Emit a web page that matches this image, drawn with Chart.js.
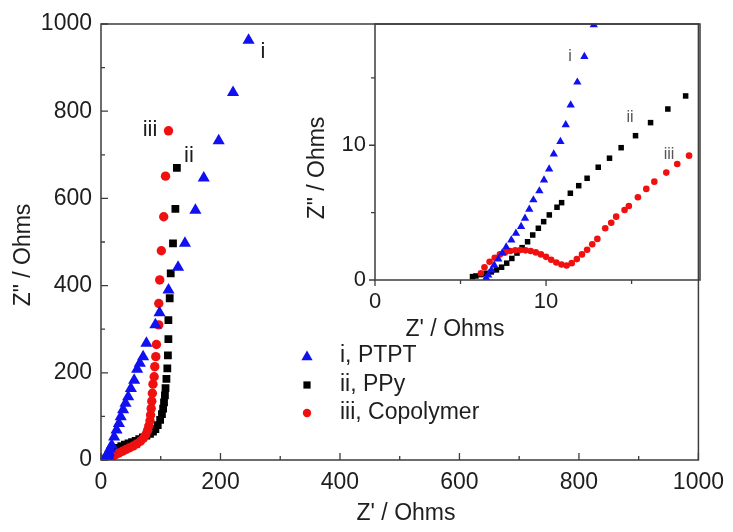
<!DOCTYPE html>
<html>
<head>
<meta charset="utf-8">
<title>Nyquist plots</title>
<script src="https://cdn.jsdelivr.net/npm/chart.js@4.4.1/dist/chart.umd.min.js"></script>
<style>
  html, body { margin: 0; padding: 0; background: #fff; }
  #wrap { position: relative; width: 733px; height: 532px; }
  #main { position: absolute; left: 0; top: 0; }
  #inset { position: absolute; left: 290px; top: 0; }
</style>
</head>
<body>
<div id="wrap">
  <canvas id="main" width="733" height="532"></canvas>
  <canvas id="inset" width="443" height="345"></canvas>
</div>
<script>
// Z' (real) and Z'' (imag), Ohms
var ptptRe = [6.5, 6.62, 6.8, 6.97, 7.21, 7.44, 7.67, 7.97, 8.24, 8.54, 8.77, 9.02, 9.26, 9.61, 9.88,
  10.18, 10.45, 10.84, 11.15, 11.44, 11.83, 12.24, 12.79,
  15, 18, 22, 26, 30, 33, 37, 41, 45.5, 50, 55.5, 60.5, 65, 70.5, 76, 91, 98, 113, 129, 140.5, 158, 172, 197, 221, 247];
var ptptIm = [0.15, 0.37, 0.74, 1.11, 1.56, 2.0, 2.45, 2.97, 3.47, 3.96, 4.58, 5.25, 5.94, 6.61, 7.42,
  8.24, 9.35, 10.27, 11.51, 12.99, 14.68, 16.58, 18.93,
  26, 34, 53, 69, 84, 99, 115, 130, 145, 164, 183, 208, 222, 237, 268, 310, 338, 390, 442, 497, 573, 647, 732, 843, 963];

var ppyRe = [5.7, 5.9, 6.2, 6.5, 6.8, 7.1, 7.4, 7.7, 8.0, 8.3, 8.6, 8.92, 9.22, 9.55, 9.86, 10.19, 10.64,
  10.91, 11.42, 11.91, 12.4, 13.05, 13.71, 14.39, 15.23, 16.11, 17.12, 18.16,
  20, 24, 28, 34, 40, 46, 52, 58, 64, 70, 76, 82, 87, 91, 95, 99, 102, 104, 105.5, 107, 108, 109.5,
  111, 112, 112.8, 112.8, 115, 116.7, 120.5, 124.5, 127];
var ppyIm = [0.25, 0.3, 0.4, 0.5, 0.6, 0.75, 0.95, 1.25, 1.6, 2.0, 2.4, 2.84, 3.34, 3.84, 4.33, 4.83, 5.4,
  5.74, 6.44, 7.0, 7.55, 8.37, 9.04, 9.82, 10.71, 11.68, 12.69, 13.66,
  17, 23, 28, 32, 35, 38, 41, 44, 48, 52, 56, 60, 65, 71, 80, 92, 105, 118, 132, 148, 165, 186,
  210, 240, 277, 321, 371, 428, 497, 576, 670];

var copoRe = [6.19, 6.4, 6.7, 7.0, 7.3, 7.6, 7.9, 8.2, 8.5, 8.8, 9.1, 9.4, 9.7, 10.0, 10.3, 10.6, 10.9,
  11.2, 11.5, 11.8, 12.1, 12.4, 12.7, 13.0, 13.46, 13.81, 14.1, 14.59, 14.84, 15.37, 15.86, 16.33,
  17.03, 17.67, 18.36,
  21, 25, 30, 36, 42, 48, 54, 60, 66, 71, 75, 78, 80, 82, 83, 84, 85, 86, 87, 89, 90, 91.7, 92.8,
  96.7, 96.7, 98.3, 101, 105, 108, 113];
var copoIm = [0.5, 0.95, 1.35, 1.65, 1.9, 2.05, 2.15, 2.2, 2.23, 2.2, 2.15, 2.05, 1.9, 1.72, 1.5, 1.3, 1.15,
  1.08, 1.25, 1.55, 1.9, 2.25, 2.65, 3.05, 3.84, 4.25, 4.7, 5.2, 5.49, 6.14, 6.76, 7.3,
  7.97, 8.61, 9.23,
  10, 13, 16, 20, 24, 28, 32, 37, 43, 50, 58, 68, 78, 90, 103, 118, 135, 153, 174, 191, 214, 237, 265,
  310, 359, 413, 480, 558, 651, 755];

var seriesNames = ['i, PTPT', 'ii, PPy', 'iii, Copolymer'];
var seriesTags = ['i', 'ii', 'iii'];

var mainTicks = [0, 200, 400, 600, 800, 1000];
var mainMinor = [100, 300, 500, 700, 900];
var insetTicks = [0, 10];
var insetMinor = [5, 15];

var FONT = '"Liberation Sans", Arial, Helvetica, sans-serif';
var TEXT = '#1e1e1e';
var AXIS = '#3c3c3c';
var BLUE = '#1010f0';
var BLACK = '#000000';
var RED = '#f01010';

Chart.defaults.font.family = FONT;
Chart.defaults.color = TEXT;

function pts(re, im) {
  return re.map(function (v, i) { return { x: v, y: im[i] }; });
}

function makeSets(sizes) {
  return [
    { label: seriesNames[0], data: pts(ptptRe, ptptIm), pointStyle: 'triangle', pointRadius: sizes[0],
      backgroundColor: BLUE, borderColor: BLUE, borderWidth: 0, order: 1 },
    { label: seriesNames[1], data: pts(ppyRe, ppyIm), pointStyle: 'rect', pointRadius: sizes[1],
      backgroundColor: BLACK, borderColor: BLACK, borderWidth: 0, order: 3 },
    { label: seriesNames[2], data: pts(copoRe, copoIm), pointStyle: 'circle', pointRadius: sizes[2],
      backgroundColor: RED, borderColor: RED, borderWidth: 0, order: 2 }
  ];
}

function fixTicks(list) {
  return function (scale) {
    scale.ticks = list.map(function (v) { return { value: v }; });
  };
}

function axisOpts(min, max, list, size, pad, fit) {
  return {
    type: 'linear', min: min, max: max,
    grid: { display: false, drawTicks: false },
    border: { display: false },
    afterBuildTicks: fixTicks(list),
    ticks: { padding: pad, color: TEXT, font: { size: size }, maxRotation: 0,
      callback: function (v) { return String(v); } },
    afterFit: fit
  };
}

// box frame plus major/minor tick marks
function frame(major, minor, majorLen, minorLen, inward) {
  return {
    id: 'frame',
    afterDraw: function (chart) {
      var ctx = chart.ctx, a = chart.chartArea, x = chart.scales.x, y = chart.scales.y;
      var d = inward ? -1 : 1;
      ctx.save();
      ctx.strokeStyle = AXIS;
      ctx.lineWidth = 1.5;
      ctx.strokeRect(a.left, a.top, a.right - a.left, a.bottom - a.top);
      ctx.lineWidth = 1.3;
      ctx.beginPath();
      [[major, majorLen], [minor, minorLen]].forEach(function (g) {
        g[0].forEach(function (v) {
          var px = x.getPixelForValue(v);
          ctx.moveTo(px, a.bottom);
          ctx.lineTo(px, a.bottom + d * g[1]);
          var py = y.getPixelForValue(v);
          ctx.moveTo(a.left, py);
          ctx.lineTo(a.left - d * g[1], py);
        });
      });
      ctx.stroke();
      ctx.restore();
    }
  };
}

function text(ctx, s, x, y, rot) {
  ctx.save();
  ctx.translate(x, y);
  if (rot) ctx.rotate(-Math.PI / 2);
  ctx.fillText(s, 0, 0);
  ctx.restore();
}

function marker(ctx, style, x, y, r) {
  ctx.beginPath();
  if (style === 'triangle') {
    ctx.moveTo(x, y - r);
    ctx.lineTo(x + r * 0.866, y + r * 0.5);
    ctx.lineTo(x - r * 0.866, y + r * 0.5);
    ctx.closePath();
  } else if (style === 'rect') {
    ctx.rect(x - r, y - r, 2 * r, 2 * r);
  } else {
    ctx.arc(x, y, r, 0, Math.PI * 2);
  }
  ctx.fill();
}

var mainDecor = {
  id: 'mainDecor',
  afterDraw: function (chart) {
    var ctx = chart.ctx;
    ctx.save();
    ctx.fillStyle = TEXT;
    ctx.textAlign = 'center';
    ctx.textBaseline = 'middle';
    ctx.font = '23px ' + FONT;
    text(ctx, "Z' / Ohms", 406, 514, false);
    text(ctx, 'Z" / Ohms', 24, 255, true);

    ctx.font = '22px ' + FONT;
    text(ctx, seriesTags[0], 263, 52, false);
    text(ctx, seriesTags[1], 189, 156, false);
    text(ctx, seriesTags[2], 150, 130, false);

    // legend
    var sets = chart.data.datasets;
    var rows = [356, 385, 413];
    var rs = [6.5, 3.6, 4.2];
    ctx.textAlign = 'left';
    ctx.font = '23px ' + FONT;
    sets.forEach(function (ds, i) {
      ctx.fillStyle = ds.backgroundColor;
      marker(ctx, ds.pointStyle, 307, rows[i] + (i === 0 ? 1 : 0), rs[i]);
      ctx.fillStyle = TEXT;
      ctx.fillText(ds.label, 340, rows[i]);
    });
    ctx.restore();
  }
};

var insetDecor = {
  id: 'insetDecor',
  afterDraw: function (chart) {
    var ctx = chart.ctx;
    ctx.save();
    ctx.fillStyle = TEXT;
    ctx.textAlign = 'center';
    ctx.textBaseline = 'middle';
    ctx.font = '23px ' + FONT;
    text(ctx, "Z' / Ohms", 455 - 290, 330, false);
    text(ctx, 'Z" / Ohms', 318 - 290, 168, true);

    ctx.fillStyle = '#555';
    ctx.font = '16px ' + FONT;
    text(ctx, seriesTags[0], 570 - 290, 57, false);
    text(ctx, seriesTags[1], 630 - 290, 118, false);
    text(ctx, seriesTags[2], 669 - 290, 155, false);
    ctx.restore();
  }
};

var mainChart = new Chart(document.getElementById('main'), {
  type: 'scatter',
  data: { datasets: makeSets([7, 5.5, 4.7]) },
  options: {
    responsive: false,
    animation: false,
    devicePixelRatio: 1,
    layout: { padding: { left: 0, top: 24, right: 33, bottom: 0 } },
    plugins: { legend: { display: false }, tooltip: { enabled: false } },
    scales: {
      x: axisOpts(0, 1000, mainTicks, 23, 9, function (s) { s.height = 72; }),
      y: axisOpts(0, 1000, mainTicks, 23, 9, function (s) { s.width = 101; })
    }
  },
  plugins: [frame(mainTicks, mainMinor, 7, 4, true), mainDecor]
});

var insetChart = new Chart(document.getElementById('inset'), {
  type: 'scatter',
  data: { datasets: makeSets([4.8, 3.9, 3.3]).map(function (ds) { ds.clip = 0; return ds; }) },
  options: {
    responsive: false,
    animation: false,
    devicePixelRatio: 1,
    layout: { padding: { left: 0, top: 24, right: 33, bottom: 0 } },
    plugins: { legend: { display: false }, tooltip: { enabled: false } },
    scales: {
      x: axisOpts(0, 19, insetTicks, 22, 9, function (s) { s.height = 65; }),
      y: axisOpts(0, 19, insetTicks, 22, 9, function (s) { s.width = 85; })
    }
  },
  plugins: [frame(insetTicks, insetMinor, 6, 4, false), insetDecor]
});
</script>
</body>
</html>
